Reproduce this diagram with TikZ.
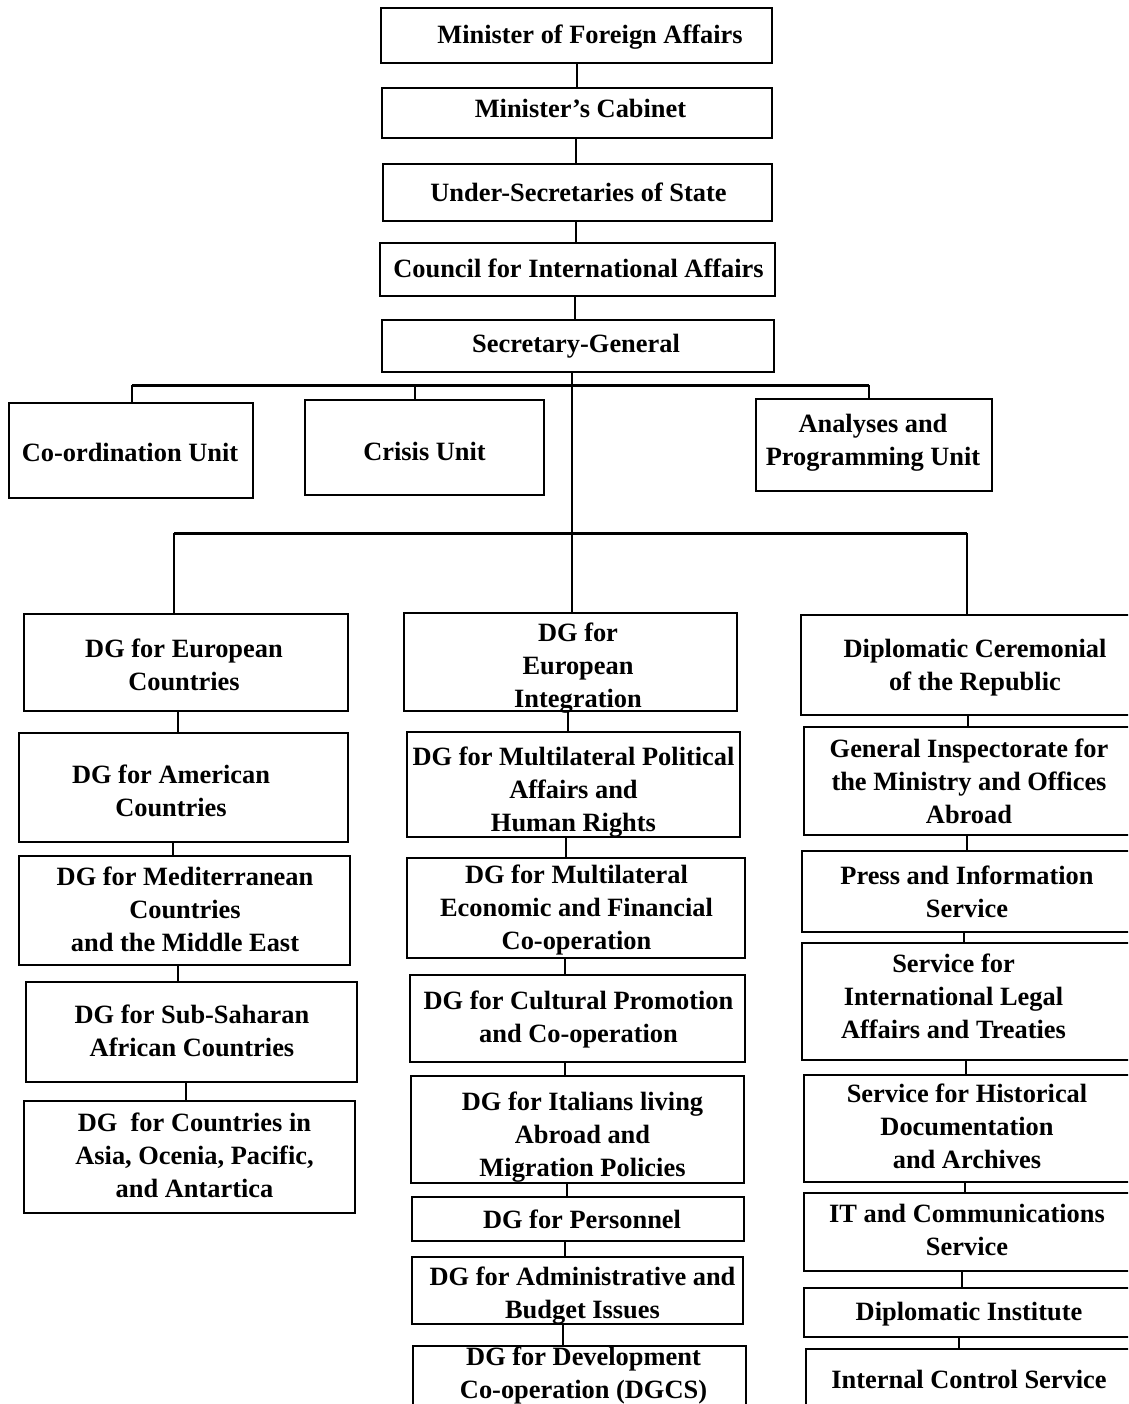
\documentclass[tikz,border=0pt]{standalone}
\usepackage{fontspec}
\setmainfont{Liberation Serif}
\newcommand\obox[6][box]{\node[#1, minimum width={(#5-#3)*1pt}, minimum height={(#6-#4)*1pt}] (#2) at ({(#3+#5)/2},{(#4+#6)/2}) {};}
\newcommand\otxt[4]{\node[txt] (#1) at (#2,#3) {\begin{tabular}[t]{@{}c@{}}#4\end{tabular}};}
\newcommand\vlink[3]{\coordinate (x-#1) at (#3,0); \draw[conn] (#1.south -| x-#1) -- (#2.north -| x-#1);}
\begin{document}
\begin{tikzpicture}[x=1pt,y=-1pt,
  box/.style={draw=black, line width=1.4pt, inner sep=0pt, outer sep=0pt},
  thickbox/.style={box, line width=2.8pt},
  txt/.style={anchor=base, inner sep=0pt, font=\fontsize{26.4}{33}\selectfont\bfseries},
  conn/.style={draw=black, line width=2pt},
  bus/.style={draw=black, line width=3pt},
]
\useasboundingbox (0,0) rectangle (1128,1404);
\clip (0,0) rectangle (1128,1404);
\fill[white] (0,0) rectangle (1128,1404);

% top chain
\obox{mfa}{381}{8}{772}{63}
\obox{cab}{382}{88}{772}{138}
\obox{usec}{383}{164}{772}{221}
\obox{cia}{380}{243}{775}{296}
\obox{sg}{382}{320}{774}{372}
% staff units
\obox{coord}{9}{403}{253}{498}
\obox{crisis}{305}{400}{544}{495}
\obox{anal}{756}{399}{992}{491}
% left column
\obox{eur}{24}{614}{348}{711}
\obox{amer}{19}{733}{348}{842}
\obox{med}{19}{856}{350}{965}
\obox{ssa}{26}{982}{357}{1082}
\obox{asia}{24}{1101}{355}{1213}
% middle column
\obox{integ}{404}{613}{737}{711}
\obox{mpol}{407}{732}{740}{837}
\obox{mecon}{407}{858}{745}{958}
\obox{cult}{410}{975}{745}{1062}
\obox{ital}{411}{1076}{744}{1183}
\obox{pers}{412}{1197}{744}{1241}
\obox{admin}{412}{1257}{743}{1324}
\obox[thickbox]{dgcs}{413}{1346}{746}{1430}
% right column
\obox{cer}{801}{615}{1145}{715}
\obox{insp}{804}{727}{1145}{835}
\obox{press}{802}{851}{1145}{932}
\obox{legal}{802}{943}{1145}{1060}
\obox{hist}{804}{1075}{1145}{1182}
\obox{it}{804}{1193}{1145}{1271}
\obox{dinst}{804}{1288}{1145}{1337}
\obox{ics}{806}{1349}{1145}{1430}

% texts
\otxt{t-mfa}{590}{44}{Minister of Foreign Affairs}
\otxt{t-cab}{580.5}{118}{Minister’s Cabinet}
\otxt{t-usec}{578.5}{202}{Under-Secretaries of State}
\otxt{t-cia}{578.5}{278}{Council for International Affairs}
\otxt{t-sg}{576}{352}{Secretary-General}
\otxt{t-coord}{130}{461}{Co-ordination Unit}
\otxt{t-crisis}{424.5}{460}{Crisis Unit}
\otxt{t-anal}{873}{432}{Analyses and\\Programming Unit}
\otxt{t-eur}{184}{657}{DG for European\\Countries}
\otxt{t-amer}{171}{783}{DG for American\\Countries}
\otxt{t-med}{185}{885}{DG for Mediterranean\\Countries\\and the Middle East}
\otxt{t-ssa}{192}{1023}{DG for Sub-Saharan\\African Countries}
\otxt{t-asia}{194.5}{1131}{DG~ for Countries in\\Asia, Ocenia, Pacific,\\and Antartica}
\otxt{t-integ}{578}{641}{DG for\\European\\Integration}
\otxt{t-mpol}{573.5}{765}{DG for Multilateral Political\\Affairs and\\Human Rights}
\otxt{t-mecon}{576.5}{883}{DG for Multilateral\\Economic and Financial\\Co-operation}
\otxt{t-cult}{578.5}{1009}{DG for Cultural Promotion\\and Co-operation}
\otxt{t-ital}{582.5}{1110}{DG for Italians living\\Abroad and\\Migration Policies}
\otxt{t-pers}{582}{1228}{DG for Personnel}
\otxt{t-admin}{582.5}{1285}{DG for Administrative and\\Budget Issues}
\otxt{t-dgcs}{583.5}{1365}{DG for Development\\Co-operation (DGCS)}
\otxt{t-cer}{975}{657}{Diplomatic Ceremonial\\of the Republic}
\otxt{t-insp}{969}{757}{General Inspectorate for\\the Ministry and Offices\\Abroad}
\otxt{t-press}{967}{884}{Press and Information\\Service}
\otxt{t-legal}{953.5}{972}{Service for\\International Legal\\Affairs and Treaties}
\otxt{t-hist}{967}{1102}{Service for Historical\\Documentation\\and Archives}
\otxt{t-it}{967}{1222}{IT and Communications\\Service}
\otxt{t-dinst}{969}{1320}{Diplomatic Institute}
\otxt{t-ics}{969}{1388}{Internal Control Service}

% vertical links
\vlink{mfa}{cab}{577}
\vlink{cab}{usec}{576}
\vlink{usec}{cia}{576}
\vlink{cia}{sg}{575}
\vlink{eur}{amer}{178}
\vlink{amer}{med}{173}
\vlink{med}{ssa}{178}
\vlink{ssa}{asia}{186}
\vlink{integ}{mpol}{568}
\vlink{mpol}{mecon}{566}
\vlink{mecon}{cult}{565}
\vlink{cult}{ital}{565}
\vlink{ital}{pers}{567}
\vlink{pers}{admin}{565}
\vlink{admin}{dgcs}{563}
\vlink{cer}{insp}{968}
\vlink{insp}{press}{967}
\vlink{press}{legal}{964}
\vlink{legal}{hist}{966}
\vlink{hist}{it}{965}
\vlink{it}{dinst}{962}
\vlink{dinst}{ics}{959}

% buses
\coordinate (sgx) at (572,0);
\draw[conn] (sg.south -| sgx) -- (integ.north -| sgx);
\coordinate (busL) at (132,385);
\coordinate (busC) at (415,385);
\coordinate (busR) at (869,385);
\draw[conn] (busL) -- (coord.north -| busL);
\draw[conn] (busC) -- (crisis.north -| busC);
\draw[conn] (busR) -- (anal.north -| busR);
\draw[bus] (busL) -- (busR);
\coordinate (bus2L) at (174,533);
\coordinate (bus2R) at (967,533);
\draw[conn] (bus2L) -- (eur.north -| bus2L);
\draw[conn] (bus2R) -- (cer.north -| bus2R);
\draw[bus] (bus2L) -- (bus2R);
\end{tikzpicture}
\end{document}
